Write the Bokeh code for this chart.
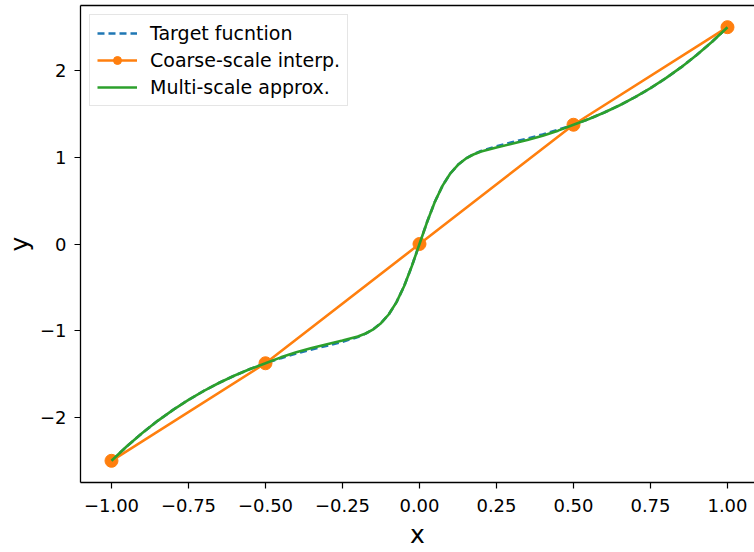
from bokeh.plotting import figure
from bokeh.models import Range1d, FixedTicker, LinearAxis, Legend, LegendItem
from bokeh.embed import file_html
from bokeh.resources import INLINE

FONT = "DejaVu Sans"

# Fine sampling of the target function and its multi-scale approximation
x_fine = [-1.0, -0.95, -0.9, -0.85, -0.8, -0.75, -0.7, -0.65, -0.6, -0.55,
          -0.5, -0.45, -0.4, -0.35, -0.3, -0.25, -0.2, -0.175, -0.15, -0.125,
          -0.1, -0.075, -0.05, -0.025, 0.0, 0.025, 0.05, 0.075, 0.1, 0.125,
          0.15, 0.175, 0.2, 0.25, 0.3, 0.35, 0.4, 0.45, 0.5, 0.55,
          0.6, 0.65, 0.7, 0.75, 0.8, 0.85, 0.9, 0.95, 1.0]
y_target = [-2.5, -2.332, -2.179, -2.039, -1.912, -1.797, -1.693, -1.600, -1.516, -1.441,
            -1.375, -1.316, -1.263, -1.216, -1.172, -1.127, -1.072, -1.034, -0.984, -0.913,
            -0.813, -0.673, -0.487, -0.257, 0.0, 0.257, 0.487, 0.673, 0.813, 0.913,
            0.984, 1.034, 1.072, 1.127, 1.172, 1.216, 1.263, 1.316, 1.375, 1.441,
            1.516, 1.600, 1.693, 1.797, 1.912, 2.039, 2.179, 2.332, 2.5]
y_multi = [-2.5, -2.332, -2.179, -2.039, -1.912, -1.797, -1.693, -1.600, -1.516, -1.441,
           -1.375, -1.307, -1.249, -1.199, -1.155, -1.112, -1.066, -1.032, -0.984, -0.913,
           -0.813, -0.673, -0.487, -0.257, 0.0, 0.257, 0.487, 0.673, 0.813, 0.913,
           0.984, 1.032, 1.066, 1.112, 1.155, 1.199, 1.249, 1.307, 1.375, 1.441,
           1.516, 1.600, 1.693, 1.797, 1.912, 2.039, 2.179, 2.332, 2.5]

# Coarse-scale interpolation nodes
x_coarse = [-1.0, -0.5, 0.0, 0.5, 1.0]
y_coarse = [-2.5, -1.375, 0.0, 1.375, 2.5]

x_ticks = [-1.0, -0.75, -0.5, -0.25, 0.0, 0.25, 0.5, 0.75, 1.0]
x_tick_labels = ["\u22121.00", "\u22120.75", "\u22120.50", "\u22120.25", "0.00",
                 "0.25", "0.50", "0.75", "1.00"]
y_ticks = [-2.0, -1.0, 0.0, 1.0, 2.0]
y_tick_labels = ["\u22122", "\u22121", "0", "1", "2"]

p = figure(width=754, height=552,
           x_range=Range1d(-1.1006, 1.0877), y_range=Range1d(-2.75, 2.75),
           output_backend="svg", toolbar_location=None,
           min_border_left=80, min_border_right=0,
           min_border_top=5, min_border_bottom=70)
p.outline_line_color = None
p.grid.visible = False
p.background_fill_color = "white"
p.border_fill_color = "white"


def style_axis(ax, ticks, labels, label_text, label_standoff, tick_standoff):
    ax.ticker = FixedTicker(ticks=ticks)
    ax.major_label_overrides = {t: s for t, s in zip(ticks, labels)}
    ax.minor_tick_line_color = None
    ax.major_tick_in = 0
    ax.major_tick_out = 6
    ax.major_tick_line_width = 1.2
    ax.major_tick_line_color = "black"
    ax.axis_line_color = "black"
    ax.axis_line_width = 1.3
    ax.major_label_text_font = FONT
    ax.major_label_text_font_size = "18px"
    ax.major_label_text_color = "black"
    ax.major_label_standoff = tick_standoff
    ax.axis_label = label_text
    ax.axis_label_text_font = FONT
    ax.axis_label_text_font_size = "25px"
    ax.axis_label_text_font_style = "normal"
    ax.axis_label_text_color = "black"
    ax.axis_label_standoff = label_standoff


style_axis(p.xaxis[0], x_ticks, x_tick_labels, "x", 5, 10)
style_axis(p.yaxis[0], y_ticks, y_tick_labels, "y", 3, 8)

# top spine
top = LinearAxis(ticker=FixedTicker(ticks=[]), axis_line_color="black",
                 axis_line_width=1.3, major_tick_line_color=None,
                 minor_tick_line_color=None, major_tick_out=0, minor_tick_out=0,
                 major_label_standoff=0)
p.add_layout(top, "above")

BLUE, ORANGE, GREEN = "#1f77b4", "#ff7f0e", "#2ca02c"

r_target = p.line(x_fine, y_target, line_color=BLUE, line_width=2.6, line_dash="7 4")
r_coarse_line = p.line(x_coarse, y_coarse, line_color=ORANGE, line_width=2.6)
r_coarse_pts = p.scatter(x_coarse, y_coarse, size=13, fill_color=ORANGE,
                         line_color=ORANGE, marker="circle")
r_multi = p.line(x_fine, y_multi, line_color=GREEN, line_width=2.6)

legend = Legend(items=[
    LegendItem(label="Target fucntion", renderers=[r_target]),
    LegendItem(label="Coarse-scale interp.", renderers=[r_coarse_line, r_coarse_pts]),
    LegendItem(label="Multi-scale approx.", renderers=[r_multi]),
], location="top_left")
legend.margin = 9
legend.padding = 7
legend.spacing = 5
legend.glyph_width = 40
legend.glyph_height = 20
legend.label_height = 20
legend.label_standoff = 13
legend.label_text_font = FONT
legend.label_text_font_size = "19px"
legend.label_text_color = "black"
legend.border_line_color = "#cccccc"
legend.border_line_width = 1
legend.background_fill_alpha = 0.8
p.add_layout(legend)

open("out.html", "w").write(file_html(p, INLINE))
